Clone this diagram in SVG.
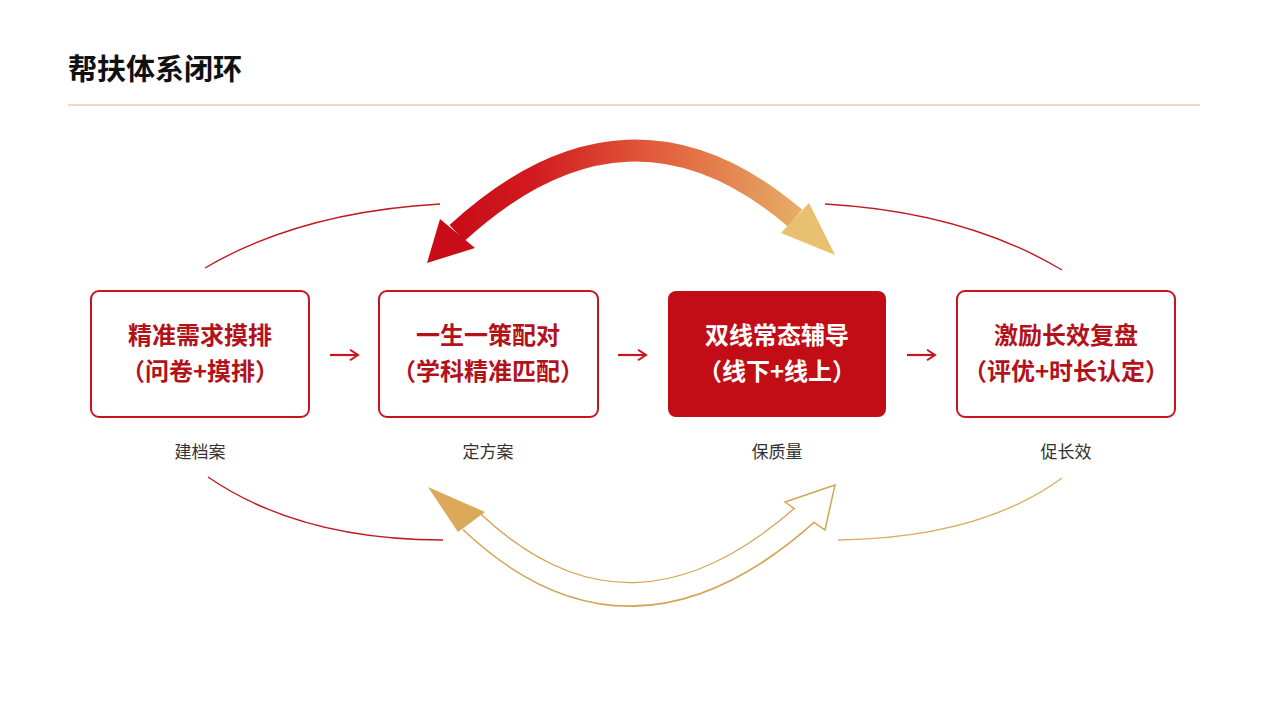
<svg xmlns="http://www.w3.org/2000/svg" width="1268" height="713" viewBox="0 0 1268 713">
<defs>
<linearGradient id="g1" x1="457" y1="0" x2="835" y2="0" gradientUnits="userSpaceOnUse">
<stop offset="0" stop-color="#c80d18"/><stop offset="0.2" stop-color="#d21a1e"/><stop offset="0.55" stop-color="#e2623e"/><stop offset="1" stop-color="#e8c070"/></linearGradient>
<marker id="ar" viewBox="0 0 10 10" refX="8" refY="5" markerWidth="6" markerHeight="6" orient="auto"><path d="M2 1 L8 5 L2 9" fill="none" stroke="#c8141c" stroke-width="1.5"/></marker>
<style>
.box{fill:#fff;stroke:#c8141c;stroke-width:2}
.t{font-family:"Noto Sans CJK SC","Noto Sans",sans-serif;font-weight:700;font-size:24px;fill:#b3121a;text-anchor:middle}
.s{font-family:"Noto Sans CJK SC","Noto Sans",sans-serif;font-size:17px;fill:#333;text-anchor:middle}
.thin{fill:none;stroke-width:1.4}
</style>
</defs>
<rect width="1268" height="713" fill="#fff"/>
<text x="68" y="80" font-family="Noto Sans CJK SC,sans-serif" font-weight="700" font-size="29" fill="#111">帮扶体系闭环</text>
<line x1="68" y1="105" x2="1200" y2="105" stroke="#d9b878" stroke-width="1.2"/>
<g id="connectors">
<path class="thin" stroke="#c01a22" d="M205 268 Q300 212 440 204"/>
<path class="thin" stroke="#c01a22" d="M825 204 Q965 212 1062 270"/>
<path class="thin" stroke="#c01a22" d="M208 477 Q300 540 443 540"/>
<path class="thin" stroke="#d8b064" d="M838 540 Q980 538 1062 478"/>
<path d="M457 233 Q628 76 795 218" fill="none" stroke="url(#g1)" stroke-width="22"/>
<polygon points="427,263 440,219 475,248" fill="#c80d18"/>
<polygon points="835,255 781,233 809,203" fill="#e8c070"/>
<path d="M471 521 Q630 672 807 513" fill="none" stroke="#d4a555" stroke-width="25"/>
<polygon points="835,485 785,502 825,530" fill="#fff" stroke="#d4a555" stroke-width="1.5"/>
<path d="M471 521 Q630 672 808.5 511.5" fill="none" stroke="#fff" stroke-width="22"/>
<polygon points="428,487 485,512 458,532" fill="#dca95a"/>
<line x1="330" y1="355" x2="358" y2="355" stroke="#c8141c" stroke-width="2.2" marker-end="url(#ar)"/>
<line x1="618" y1="355" x2="646" y2="355" stroke="#c8141c" stroke-width="2.2" marker-end="url(#ar)"/>
<line x1="907" y1="355" x2="935" y2="355" stroke="#c8141c" stroke-width="2.2" marker-end="url(#ar)"/>
</g>
<g id="n1"><rect class="box" x="91" y="291" width="218" height="126" rx="8"/><text class="t" x="200" y="344">精准需求摸排</text><text class="t" x="200" y="380">（问卷+摸排）</text><text class="s" x="200" y="458">建档案</text></g>
<g id="n2"><rect class="box" x="379" y="291" width="219" height="126" rx="8"/><text class="t" x="488" y="344">一生一策配对</text><text class="t" x="488" y="380">（学科精准匹配）</text><text class="s" x="488" y="458">定方案</text></g>
<g id="n3"><rect x="668" y="291" width="218" height="126" rx="8" fill="#c20d17"/><text class="t" style="fill:#fff" x="777" y="344">双线常态辅导</text><text class="t" style="fill:#fff" x="777" y="380">（线下+线上）</text><text class="s" x="777" y="458">保质量</text></g>
<g id="n4"><rect class="box" x="957" y="291" width="218" height="126" rx="8"/><text class="t" x="1066" y="344">激励长效复盘</text><text class="t" x="1066" y="380">（评优+时长认定）</text><text class="s" x="1066" y="458">促长效</text></g>
</svg>
